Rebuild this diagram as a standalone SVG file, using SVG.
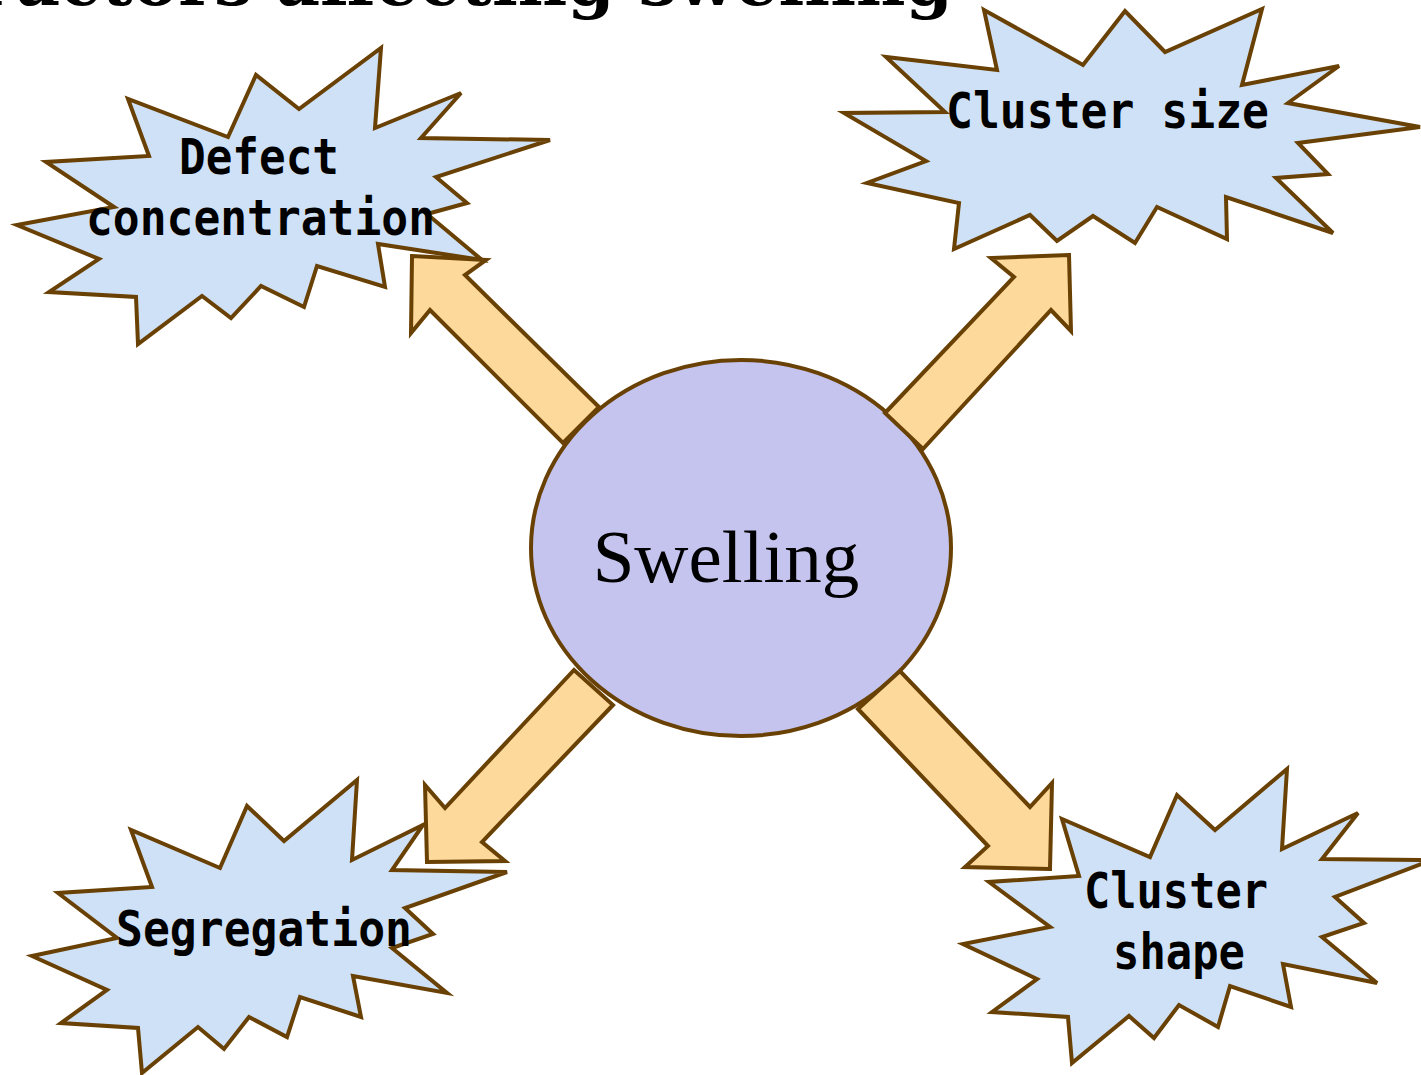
<svg xmlns="http://www.w3.org/2000/svg" width="1421" height="1075" viewBox="0 0 1421 1075">
<style>
.burst{fill:#CFE1F6;stroke:#6A4104;stroke-width:4;stroke-linejoin:miter}
.arrow{fill:#FDD99C;stroke:#6A4104;stroke-width:4;stroke-linejoin:miter}
.lbl{font-family:"DejaVu Sans Mono","Liberation Mono",monospace;font-weight:bold;font-size:50px;fill:#000;text-anchor:middle}
.title{font-family:"DejaVu Serif","Liberation Serif",serif;font-weight:bold;font-size:68px;fill:#000;text-anchor:end}
</style>
<rect width="1421" height="1075" fill="#fff"/>
<text class="title" x="953" y="5">Factors affecting swelling</text>

<g id="node-defect">
<polygon class="burst" points="381,48 375,128 461,93 421,138 550,140 436,177 467,203 427,214 482,260 378,244 385,287 317,266 304,307 261,286 231,318 202,296 138,344 136,297 49,292 99,259 17,225 114,207 46,162 149,156 128,99 228,137 256,75 299,109"/>
<text class="lbl" x="259" y="174" textLength="160" lengthAdjust="spacingAndGlyphs">Defect</text>
<text class="lbl" x="260.5" y="235" textLength="349" lengthAdjust="spacingAndGlyphs">concentration</text>
</g>

<g id="node-cluster-size">
<polygon class="burst" points="984,10 1083,65 1125,11 1165,52 1262,9 1242,85 1339,66 1288,103 1420,127 1298,143 1328,174 1276,178 1333,233 1226,197 1227,239 1157,207 1135,243 1093,216 1057,241 1030,215 954,249 959,203 867,183 926,161 844,113 945,112 886,57 997,70"/>
<text class="lbl" x="1107.5" y="128" textLength="323" lengthAdjust="spacingAndGlyphs">Cluster size</text>
</g>

<g id="node-segregation">
<polygon class="burst" points="357,780 352,860 423,825 392,870 507,872 405,908 433,934 392,948 447,993 353,976 361,1017 300,997 287,1037 249,1017 224,1049 198,1027 142,1073 138,1028 61,1023 107,990 32,956 117,938 58,893 152,887 131,830 220,868 247,806 284,841"/>
<text class="lbl" x="264" y="946" textLength="296" lengthAdjust="spacingAndGlyphs">Segregation</text>
</g>

<g id="node-cluster-shape">
<polygon class="burst" points="1287,769 1282,849 1358,813 1322,859 1432,860 1335,897 1364,923 1322,937 1377,983 1283,964 1291,1007 1230,986 1218,1027 1179,1005 1154,1038 1129,1016 1072,1063 1068,1017 992,1012 1037,979 963,944 1050,927 989,882 1079,876 1062,819 1150,857 1177,795 1215,830"/>
<text class="lbl" x="1176" y="908" textLength="184" lengthAdjust="spacingAndGlyphs">Cluster</text>
<text class="lbl" x="1179" y="969" textLength="132" lengthAdjust="spacingAndGlyphs">shape</text>
</g>

<g id="node-swelling">
<ellipse cx="741" cy="548" rx="210" ry="188" fill="#C4C4EF" stroke="#6A4104" stroke-width="4"/>
<text x="726" y="582" font-family="'Liberation Serif','Times New Roman',serif" font-size="75" text-anchor="middle" fill="#000">Swelling</text>
</g>

<g id="connectors">
<polygon class="arrow" points="412,256 486,260 465,275 599,407 563,443 430,310 411,333"/>
<polygon class="arrow" points="1069,255 991,258 1014,277 885,413 923,449 1051,310 1071,331"/>
<polygon class="arrow" points="427,862 505,861 482,842 613,705 574,670 445,808 425,785"/>
<polygon class="arrow" points="1050,869 965,867 988,846 858,709 900,671 1030,807 1052,783"/>
</g>
</svg>
